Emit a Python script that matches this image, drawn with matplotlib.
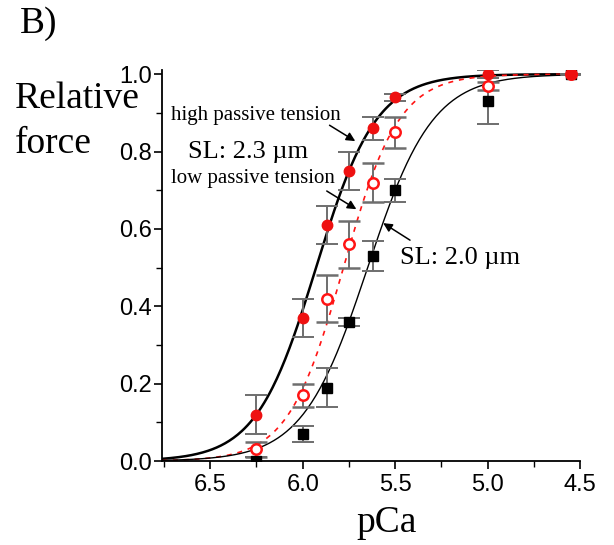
import numpy as np
import matplotlib
matplotlib.use("Agg")
import matplotlib.pyplot as plt
from matplotlib.ticker import MultipleLocator, FormatStrFormatter

# measured points (pCa, relative force, SEM)
pca = [6.25, 6.0, 5.87, 5.75, 5.62, 5.5, 5.0, 4.55]

high_force = [0.12, 0.37, 0.61, 0.75, 0.86, 0.94, 1.00, 1.00]
high_err = [0.05, 0.05, 0.05, 0.05, 0.03, 0.01, 0.01, 0.0]

low_force = [0.03, 0.17, 0.42, 0.56, 0.72, 0.85, 0.97, 1.00]
low_err = [0.02, 0.03, 0.06, 0.06, 0.05, 0.04, 0.01, 0.0]

sl20_force = [0.00, 0.07, 0.19, 0.36, 0.53, 0.70, 0.93, 1.00]
sl20_err = [0.01, 0.02, 0.05, 0.01, 0.04, 0.03, 0.06, 0.0]

# Hill fit parameters (pCa50, nH)
high_fit = (5.928, 2.68)
low_fit = (5.78, 2.9)
sl20_fit = (5.649, 2.47)


def hill(x, p50, n):
    return 1.0 / (1.0 + 10 ** (n * (x - p50)))


serif = ["Liberation Serif", "DejaVu Serif"]
plt.rcParams["font.family"] = ["Liberation Sans", "DejaVu Sans"]
RED = "#ff1414"

fig = plt.figure(figsize=(6.14, 5.45), dpi=100)
ax = fig.add_axes([0.264, 0.154, 0.681, 0.717])

xs = np.linspace(6.76, 4.5, 300)
ax.plot(xs, hill(xs, *high_fit), color="black", lw=1.8, zorder=2)
ax.plot(xs, hill(xs, *low_fit), color=RED, lw=1.2, ls=(0, (3, 3.5)), zorder=2)
ax.plot(xs, hill(xs, *sl20_fit), color="black", lw=1.0, zorder=2)

ebkw = dict(ls="none", ecolor="#6e6e6e", elinewidth=1.4, capsize=8, capthick=1.4, zorder=3)
ax.errorbar(pca, sl20_force, yerr=sl20_err, marker="s", ms=7, mfc="black", mec="black", **ebkw)
ax.errorbar(pca, low_force, yerr=low_err, marker="o", ms=7.5, mfc="white", mec=RED, mew=1.8, **ebkw)
ax.errorbar(pca, high_force, yerr=high_err, marker="o", ms=7.5, mfc="#ee1111", mec="#ee1111", **ebkw)

ax.set_xlim(6.76, 4.5)
ax.set_ylim(0, 1.01)
ax.xaxis.set_major_locator(MultipleLocator(0.5))
ax.xaxis.set_minor_locator(MultipleLocator(0.25))
ax.yaxis.set_major_locator(MultipleLocator(0.2))
ax.yaxis.set_minor_locator(MultipleLocator(0.1))
ax.xaxis.set_major_formatter(FormatStrFormatter("%.1f"))
ax.yaxis.set_major_formatter(FormatStrFormatter("%.1f"))
ax.tick_params(which="major", direction="out", length=6, width=1.2, labelsize=17, pad=1)
ax.tick_params(which="minor", direction="out", length=4, width=1.0)
ax.tick_params(axis="x", which="major", pad=3)
for s in ["top", "right"]:
    ax.spines[s].set_visible(False)
for s in ["left", "bottom"]:
    ax.spines[s].set_linewidth(1.3)

fig.text(0.033, 0.939, "B)", family=serif, fontsize=27, va="baseline", ha="left")
fig.text(0.025, 0.802, "Relative", family=serif, fontsize=27, va="baseline", ha="left")
fig.text(0.025, 0.719, "force", family=serif, fontsize=27, va="baseline", ha="left")
fig.text(0.629, 0.024, "pCa", family=serif, fontsize=27, ha="center", va="baseline")

arrow = dict(arrowstyle="-|>", color="black", lw=1.1, mutation_scale=13, shrinkA=0, shrinkB=0)

ax.text(6.71, 0.894, "high passive tension", family=serif, fontsize=15, va="center")
ax.annotate("", xy=(5.716, 0.827), xytext=(5.855, 0.868), arrowprops=arrow)
ax.text(6.62, 0.80, "SL: 2.3 \u00b5m", family=serif, fontsize=19, va="center")
ax.text(6.71, 0.73, "low passive tension", family=serif, fontsize=15, va="center")
ax.annotate("", xy=(5.71, 0.651), xytext=(5.87, 0.698), arrowprops=arrow)
ax.text(5.473, 0.525, "SL: 2.0 \u00b5m", family=serif, fontsize=19, va="center")
ax.annotate("", xy=(5.565, 0.615), xytext=(5.42, 0.571), arrowprops=arrow)

fig.savefig("out.png", dpi=100)
